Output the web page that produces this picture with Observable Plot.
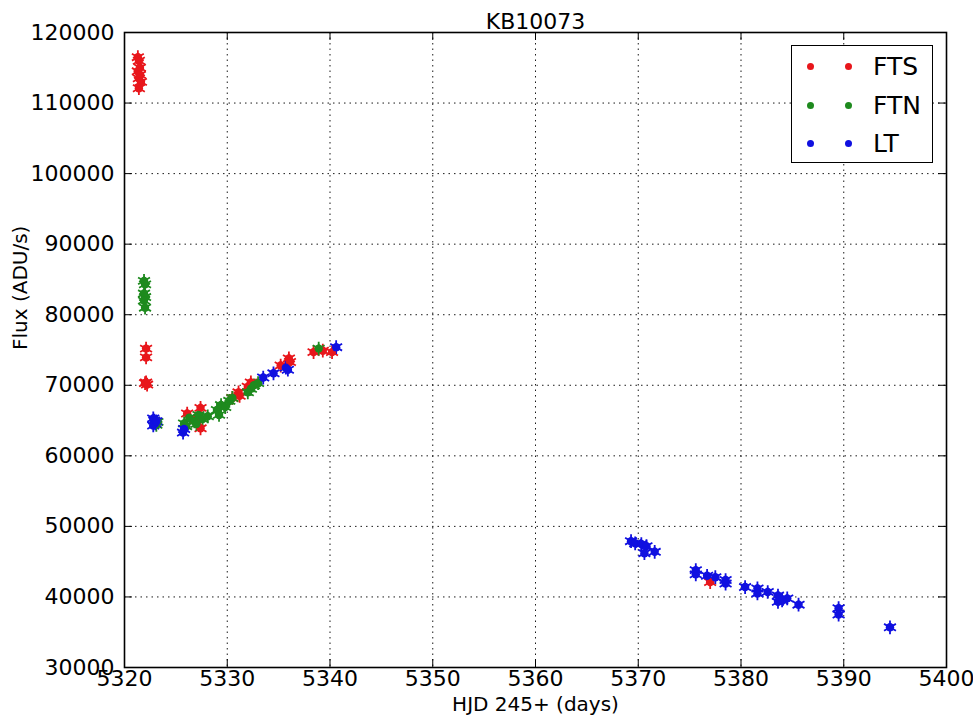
<!DOCTYPE html>
<html>
<head>
<meta charset="utf-8">
<script src="https://cdn.jsdelivr.net/npm/d3@7"></script>
<script src="https://cdn.jsdelivr.net/npm/@observablehq/plot@0.6"></script>
<style>
  body { margin: 0; background: white; }
  #wrap { position: relative; width: 973px; height: 721px; font-family: "DejaVu Sans", sans-serif; }
  #legend { position: absolute; left: 791px; top: 45px; width: 140px; height: 116px; border: 1.5px solid black; background: white; }
  .row { position: absolute; left: 0; height: 30px; width: 140px; }
  .dot { position: absolute; width: 7px; height: 7px; border-radius: 50%; top: 11px; }
  .lab { position: absolute; left: 81px; top: 0; font-size: 25px; line-height: 30px; color: black; }
</style>
</head>
<body>
<div id="wrap"></div>
<script>
const title = "KB10073";
const xLabel = "HJD 245+ (days)";
const yLabel = "Flux (ADU/s)";
const xTicks = [5320, 5330, 5340, 5350, 5360, 5370, 5380, 5390, 5400];
const yTicks = [30000, 40000, 50000, 60000, 70000, 80000, 90000, 100000, 110000, 120000];
const seriesNames = ["FTS", "FTN", "LT"];
const seriesColors = ["#e8161b", "#1e8a1e", "#1010e0"];

const ftsX = [5321.3,5321.4,5321.5,5321.3,5321.5,5321.4,5321.6,5321.4, 5322.1,5322.1,5322.0,5322.2,5322.1, 5326.1,5327.4,5327.4,5326.8, 5331.1,5331.2,5330.5,5332.3,5332.0, 5335.2,5336.0,5336.1, 5338.4,5340.2,5339.3, 5377.0];
const ftsY = [116500,116000,115000,114500,114000,113500,113000,112100, 75200,73950,70300,70100,70400, 66000,66800,63900,65000, 69000,68500,68200,70400,69800, 72800,73800,73300, 74700,74700,74900, 42100];

const ftnX = [5321.9,5322.0,5321.9,5322.0,5321.9,5322.0, 5323.2,5323.1, 5325.8,5326.3,5326.8,5327.2,5327.6,5328.1,5326.0,5327.0, 5329.0,5329.4,5329.8,5330.2,5330.5,5329.2, 5332.3,5332.0,5332.6,5333.0, 5338.9];
const ftnY = [84800,84300,83000,82500,82000,81000, 64800,64400, 64600,65400,64900,65800,65200,65600,64200,64500, 66500,67200,66900,67800,68200,65800, 69500,69000,70000,70300, 75200];

const ltX = [5322.8,5322.9,5323.0,5322.8,5323.1, 5325.7,5325.8, 5333.5,5334.5,5335.7,5335.9, 5340.6, 5369.3,5369.7,5370.3,5370.8,5370.6,5371.6, 5375.6,5375.6,5376.7,5377.5,5378.5,5378.5, 5380.4,5381.6,5381.6,5382.6,5383.6,5383.6,5384.5,5385.6,5384.0, 5389.5,5389.5, 5394.5];
const ltY = [65300,65000,64600,64300,64900, 63300,63800, 71100,71700,72500,72200, 75400, 47900,47600,47500,47200,46200,46400, 43800,43200,43000,42800,42400,41900, 41400,41200,40500,40700,40200,39300,39800,38900,39500, 38400,37500, 35700];
const fluxErr = 550;

const rows = [];
[[ftsX, ftsY], [ftnX, ftnY], [ltX, ltY]].forEach(([xs, ys], i) => {
  xs.forEach((x, j) => rows.push({series: seriesNames[i], t: x, flux: ys[j]}));
});

const W = 973, H = 721, mL = 124, mR = 27, mT = 32, mB = 54;
const innerH = H - mT - mB, innerW = W - mL - mR;
const colorOf = s => seriesColors[seriesNames.indexOf(s)];

const chart = Plot.plot({
  width: W, height: H,
  marginLeft: mL, marginRight: mR, marginTop: mT, marginBottom: mB,
  style: {fontFamily: "DejaVu Sans, sans-serif", fontSize: "22px", color: "black", background: "white"},
  x: {domain: [5320, 5400], label: null},
  y: {domain: [30000, 120000], label: null},
  marks: [
    Plot.gridX(xTicks, {stroke: "black", strokeOpacity: 0.9, strokeDasharray: "1.5,4"}),
    Plot.gridY(yTicks, {stroke: "black", strokeOpacity: 0.9, strokeDasharray: "1.5,4"}),
    Plot.tickX(xTicks, {x: d => d, insetTop: innerH - 8, stroke: "black"}),
    Plot.tickX(xTicks, {x: d => d, insetBottom: innerH - 8, stroke: "black"}),
    Plot.tickY(yTicks, {y: d => d, insetRight: innerW - 8, stroke: "black"}),
    Plot.tickY(yTicks, {y: d => d, insetLeft: innerW - 8, stroke: "black"}),
    Plot.axisX(xTicks, {anchor: "bottom", tickSize: 0, tickPadding: 3, tickFormat: d => String(d), label: null}),
    Plot.axisY(yTicks, {anchor: "left", tickSize: 0, tickPadding: 10, tickFormat: d => String(d), label: null}),
    Plot.ruleX(rows, {x: "t", y1: d => d.flux - fluxErr, y2: d => d.flux + fluxErr, stroke: d => colorOf(d.series), strokeWidth: 1.8}),
    Plot.dot(rows, {x: "t", y: "flux", r: 6.5, symbol: "asterisk", stroke: d => colorOf(d.series), strokeWidth: 1.8}),
    Plot.dot(rows, {x: "t", y: "flux", r: 4.2, fill: d => colorOf(d.series), stroke: "none"}),
    Plot.frame({stroke: "black", strokeWidth: 1.6}),
    Plot.text([title], {frameAnchor: "top", dy: -19, fontSize: 22, fill: "black"}),
    Plot.text([xLabel], {frameAnchor: "bottom", dy: 43, fontSize: 20, fill: "black"}),
    Plot.text([yLabel], {frameAnchor: "left", dx: -104, rotate: -90, fontSize: 20, fill: "black"})
  ]
});

const wrap = document.getElementById("wrap");
wrap.appendChild(chart);

const legend = document.createElement("div");
legend.id = "legend";
seriesNames.forEach((name, i) => {
  const row = document.createElement("div");
  row.className = "row";
  row.style.top = (6 + i * 38.5) + "px";
  [14.5, 52.5].forEach(left => {
    const d = document.createElement("div");
    d.className = "dot";
    d.style.left = left + "px";
    d.style.background = seriesColors[i];
    row.appendChild(d);
  });
  const lab = document.createElement("div");
  lab.className = "lab";
  lab.textContent = name;
  row.appendChild(lab);
  legend.appendChild(row);
});
wrap.appendChild(legend);
</script>
</body>
</html>
